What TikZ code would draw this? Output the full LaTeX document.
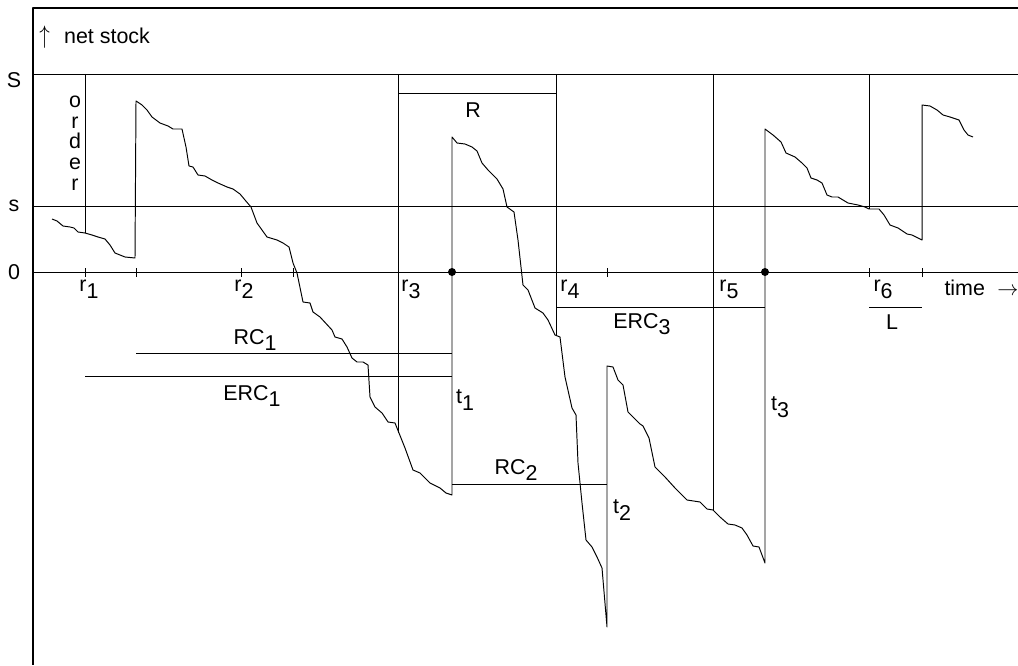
\documentclass[tikz,border=0pt]{standalone}
\usepackage{fontspec}
\setmainfont{Liberation Sans}
\usepackage{xcolor}
\usepackage{tikz}
\usetikzlibrary{positioning}

\newcommand{\idx}[2]{#1\raisebox{-3.8pt}{#2}}

\begin{document}
\begin{tikzpicture}[x=0.2mm, y=-0.2mm, line width=0.55pt, line join=round,
	etiq/.style={font=\fontsize{12.2}{11.8}\selectfont, inner sep=0pt},
	punto/.style={circle, fill, inner sep=0pt, minimum size=1.6mm}]
			\useasboundingbox (0,0) rectangle (1018,665);
			
			% Marco
			\draw[line width=1.1pt] (1018,8) -- (33,8) -- (33,665);
			\node[etiq, anchor=base west] (eje) at (39,44) {\scalebox{1}[1.2]{$\uparrow$}\hspace{8pt}net stock};
			
			% Niveles S, s y 0
			\draw (33,74) -- (1018,74);
			\draw (33,206) -- (1018,206);
			\draw (33,272) -- (1018,272);
			\node[etiq] (nS) at (14,80) {S};
			\node[etiq] (ns) at (14,206) {s};
			\node[etiq] (n0) at (14,272) {0};
			
			% Marcas del tiempo
			\foreach \x in {85,136,241,293,607,869,922}
				\draw (\x,268) -- (\x,277);
			\node[etiq, anchor=west] (r1) at (79,289) {\idx{r}{1}};
			\node[etiq, anchor=west] (r2) at (234,289) {\idx{r}{2}};
			\node[etiq, anchor=west] (r3) at (401,289) {\idx{r}{3}};
			\node[etiq, anchor=west] (r4) at (560,289) {\idx{r}{4}};
			\node[etiq, anchor=west] (r5) at (719,289) {\idx{r}{5}};
			\node[etiq, anchor=west] (r6) at (873,289) {\idx{r}{6}};
			\node[etiq, anchor=west] (tiempo) at (944,288) {time\hspace{7pt}$\rightarrow$};
			
			% Pedido
			\draw (85,74) -- (85,233);
			\node[etiq, align=center] (orden) at (75,143) {o\\r\\d\\e\\r};
			
			% Revisiones
			\draw (398,74) -- (398,433);
			\draw (556,74) -- (556,335);
			\draw (713,74) -- (713,510);
			\draw (869,74) -- (869,209);
			
			% Periodo R
			\draw (398,93) -- (556,93);
			\node[etiq] (R) at (473,110) {R};
			
			% Stock neto
			\draw (52,219) -- (57,221) -- (63,226) -- (70,227) -- (74,228) -- (78,232) -- (85,233) -- (92,235) -- (98,237) -- (105,239) -- (110,245) -- (115,253) -- (125,257) -- (135,258)
				-- (136,101) -- (142,105) -- (147,110) -- (152,117) -- (160,123) -- (168,126) -- (173,129) -- (182,129) -- (186,147) -- (189,166) -- (193,167) -- (198,175) -- (205,176) -- (212,180) -- (218,183) -- (227,187) -- (233,189) -- (240,194) -- (245,200) -- (251,207) -- (257,223) -- (267,237) -- (277,240) -- (283,243) -- (289,247) -- (293,263) -- (297,273) -- (303,302) -- (310,303) -- (313,312) -- (320,317) -- (332,330) -- (335,337) -- (342,339) -- (347,347) -- (352,358) -- (357,362) -- (363,362) -- (368,365) -- (370,397) -- (375,407) -- (382,413) -- (388,422) -- (395,423) -- (399,433) -- (405,448) -- (413,470) -- (420,473) -- (430,483) -- (440,488) -- (446,493) -- (452,495)
				-- (452,137) -- (457,143) -- (465,144) -- (472,147) -- (477,151) -- (482,163) -- (488,170) -- (497,179) -- (503,189) -- (507,207) -- (514,212) -- (518,240) -- (523,285) -- (528,290) -- (535,308) -- (543,313) -- (548,320) -- (555,335) -- (560,337) -- (565,377) -- (572,408) -- (576,415) -- (578,463) -- (580,483) -- (582,503) -- (586,540) -- (592,547) -- (597,557) -- (602,568) -- (607,627)
				-- (607,366) -- (613,367) -- (618,380) -- (623,385) -- (628,412) -- (633,417) -- (640,424) -- (643,426) -- (649,438) -- (655,467) -- (665,477) -- (675,488) -- (687,500) -- (700,502) -- (707,509) -- (713,510) -- (720,517) -- (728,524) -- (735,525) -- (742,528) -- (747,535) -- (753,546) -- (759,547) -- (765,563)
				-- (765,129) -- (773,135) -- (781,142) -- (786,153) -- (795,157) -- (802,163) -- (807,168) -- (811,178) -- (817,180) -- (822,183) -- (827,195) -- (832,197) -- (838,197) -- (848,203) -- (858,205) -- (865,207) -- (869,209) -- (879,209) -- (884,215) -- (890,225) -- (898,228) -- (907,234) -- (912,235) -- (922,240)
				-- (922,105) -- (930,106) -- (937,110) -- (943,115) -- (950,117) -- (959,120) -- (964,130) -- (968,135) -- (973,137);
			
			% Llegadas
			\node[punto] (p1) at (452,272) {};
			\node[punto] (p3) at (765,272) {};
			\node[etiq] (t1) at (465,400) {\idx{t}{1}};
			\node[etiq] (t2) at (622,510) {\idx{t}{2}};
			\node[etiq] (t3) at (780,407) {\idx{t}{3}};
			
			% Ciclos de reaprovisionamiento
			\draw (136,353) -- (452,353);
			\node[etiq] (RC1) at (255,340) {\idx{RC}{1}};
			\draw (85,376) -- (452,376);
			\node[etiq] (ERC1) at (252,396) {\idx{ERC}{1}};
			\draw (452,484) -- (607,484);
			\node[etiq] (RC2) at (516,470) {\idx{RC}{2}};
			\draw (556,307) -- (765,307);
			\node[etiq] (ERC3) at (642,324) {\idx{ERC}{3}};
			
			% Plazo L
			\draw (869,307) -- (922,307);
			\node[etiq] (L) at (892,322) {L};
			\end{tikzpicture}
\end{document}
